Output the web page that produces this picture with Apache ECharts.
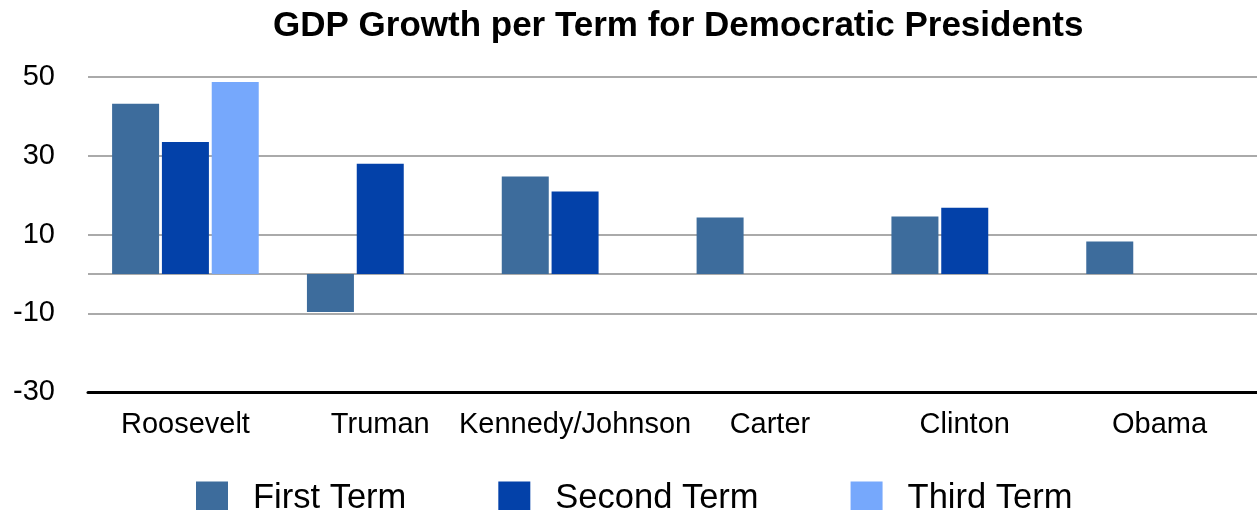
<!DOCTYPE html>
<html>
<head>
<meta charset="utf-8">
<title>GDP Growth per Term for Democratic Presidents</title>
<script src="https://cdn.jsdelivr.net/npm/echarts@6/dist/echarts.min.js"></script>
<style>
  html, body { margin: 0; padding: 0; background: #ffffff; }
  #chart { width: 1257px; height: 510px; }
</style>
</head>
<body>
<div id="chart"></div>
<script>
// Presidents along the category axis
const presidents = ['Roosevelt', 'Truman', 'Kennedy/Johnson', 'Carter', 'Clinton', 'Obama'];

// GDP growth (%) over each term; null where there was no such term
const firstTerm  = [43.2, -9.7, 24.7, 14.3, 14.6, 8.2];
const secondTerm = [33.5, 28.0, 20.9, null, 16.8, null];
const thirdTerm  = [48.7, null, null, null, null, null];

const seriesNames = ['First Term', 'Second Term', 'Third Term'];
const seriesColors = ['#3D6C9C', '#0341A9', '#76A8FC'];

// Value axis range and tick step
const yMin = -30, yMax = 50, yStep = 20;

const FONT = '"Liberation Sans", Arial, Helvetica, sans-serif';

const chart = echarts.init(document.getElementById('chart'), null, { renderer: 'canvas' });

const dataSets = [firstTerm, secondTerm, thirdTerm];

const series = dataSets.map((values, i) => {
  const s = {
    name: seriesNames[i],
    type: 'bar',
    data: values.map(v => (v === null ? '-' : v)),
    barWidth: 47,
    barGap: '6%',
    itemStyle: { color: seriesColors[i] },
    emphasis: { disabled: true }
  };
  if (i === 0) {
    // baseline at zero
    s.markLine = {
      silent: true,
      symbol: 'none',
      label: { show: false },
      lineStyle: { color: '#AAAAAA', width: 2, type: 'solid' },
      data: [{ yAxis: 0 }],
      z: 1
    };
  }
  return s;
});

chart.setOption({
  animation: false,
  backgroundColor: '#ffffff',
  textStyle: { fontFamily: FONT },
  title: {
    text: 'GDP Growth per Term for Democratic Presidents',
    left: 268,
    top: 4,
    textStyle: { fontFamily: FONT, fontSize: 35, fontWeight: 'bold', color: '#000000' }
  },
  legend: {
    data: seriesNames,
    left: 191,
    top: 476,
    itemWidth: 32,
    itemHeight: 34,
    itemGap: 92,
    icon: 'rect',
    textStyle: { fontFamily: FONT, fontSize: 34.5, color: '#000000', padding: [0, 0, 0, 20] }
  },
  grid: { left: 88, right: 0, top: 77, bottom: 118, containLabel: false },
  xAxis: {
    type: 'category',
    data: presidents,
    axisLine: { onZero: false, lineStyle: { color: '#000000', width: 3 } },
    axisTick: { show: false },
    axisLabel: { fontFamily: FONT, fontSize: 29, color: '#000000', margin: 18, interval: 0 }
  },
  yAxis: {
    type: 'value',
    min: yMin,
    max: yMax,
    interval: yStep,
    axisLine: { show: false },
    axisTick: { show: false },
    axisLabel: { fontFamily: FONT, fontSize: 29, color: '#000000', margin: 33 },
    splitLine: { lineStyle: { color: '#AAAAAA', width: 2 } }
  },
  series: series
});
</script>
</body>
</html>
